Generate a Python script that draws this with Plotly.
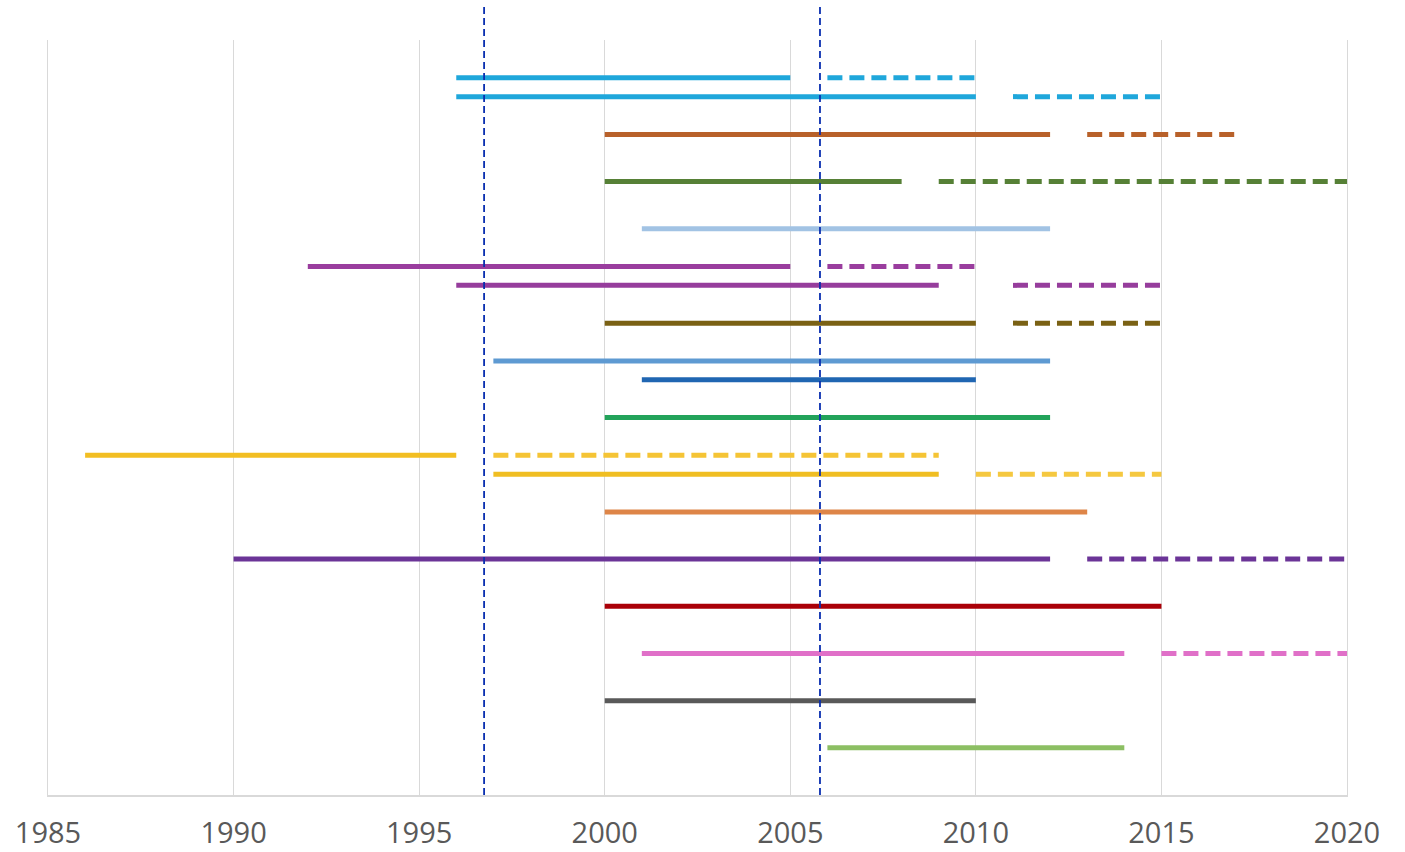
import plotly.graph_objects as go

# ---- data ----
row_y = [15.2, 14.8, 14, 13, 12, 11.2, 10.8, 10, 9.2, 8.8, 8, 7.2, 6.8, 6, 5, 4, 3, 2, 1]
solid_start = [1996, 1996, 2000, 2000, 2001, 1992, 1996, 2000, 1997, 2001, 2000, 1986, 1997, 2000, 1990, 2000, 2001, 2000, 2006]
solid_end = [2005, 2010, 2012, 2008, 2012, 2005, 2009, 2010, 2012, 2010, 2012, 1996, 2009, 2013, 2012, 2015, 2014, 2010, 2014]
dash_start = [2006, 2011, 2013, 2009, None, 2006, 2011, 2011, None, None, None, 1997, 2010, None, 2013, None, 2015, None, None]
dash_end = [2010, 2015, 2017, 2020, None, 2010, 2015, 2015, None, None, None, 2009, 2015, None, 2020, None, 2020, None, None]
marker_years = [1996.75, 2005.8]
tick_years = [1985, 1990, 1995, 2000, 2005, 2010, 2015, 2020]

# ---- styles ----
colors = ["#1FA7DB", "#1FA7DB", "#B8612A", "#568036", "#A2C3E4", "#9A3D9E", "#963D9C",
          "#7A6114", "#5E9AD2", "#2066B2", "#22A35A", "#F2BE22", "#F0BE22", "#DE8548",
          "#6B3497", "#AA0008", "#E070C8", "#595959", "#8CBF63"]
dash_colors = list(colors)
dash_colors[11] = "#F5C435"
dash_colors[12] = "#F5C840"

fig = go.Figure()
for i, y in enumerate(row_y):
    fig.add_trace(go.Scatter(
        x=[solid_start[i], solid_end[i]], y=[y, y], mode="lines",
        line=dict(color=colors[i], width=5), hoverinfo="skip", showlegend=False))
    if dash_start[i] is not None:
        fig.add_trace(go.Scatter(
            x=[dash_start[i], dash_end[i]], y=[y, y], mode="lines",
            line=dict(color=dash_colors[i], width=5, dash="15px,7px"),
            hoverinfo="skip", showlegend=False))

for yr in marker_years:
    fig.add_shape(type="line", xref="x", yref="paper", x0=yr, x1=yr, y0=0, y1=1.046,
                  line=dict(color="#0A2FB0", width=1.8, dash="7px,4px"), layer="above")

fig.update_layout(
    width=1405, height=852,
    margin=dict(l=48, r=58, t=40, b=57, autoexpand=False),
    paper_bgcolor="white", plot_bgcolor="white",
    xaxis=dict(range=[1985, 2020], tickvals=tick_years, ticktext=[str(t) for t in tick_years],
               showgrid=True, gridcolor="#D9D9D9", gridwidth=1,
               showline=True, linecolor="#D9D9D9", linewidth=1.5,
               zeroline=False, ticks="", ticklabelstandoff=11, automargin=False,
               tickfont=dict(family="Open Sans", size=29, color="#595959")),
    yaxis=dict(range=[0, 16], showgrid=False, zeroline=False, showticklabels=False,
               showline=True, mirror=True, linecolor="#D9D9D9", linewidth=1,
               ticks="", automargin=False),
)

fig.write_html("out.html", config={"displayModeBar": False},
               post_script="document.body.style.margin='0';document.body.style.overflow='hidden';")
